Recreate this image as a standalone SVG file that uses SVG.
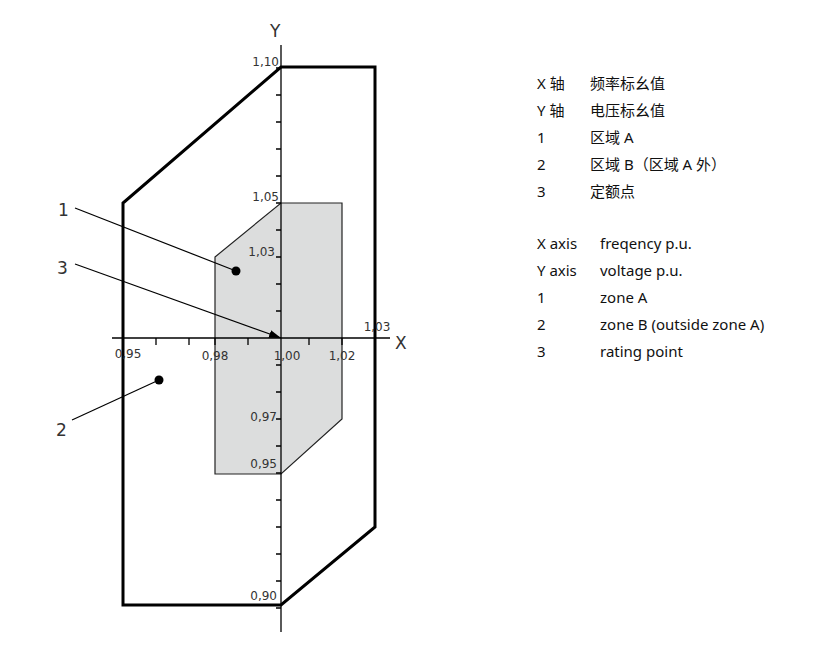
<svg xmlns="http://www.w3.org/2000/svg" width="833" height="648" viewBox="0 0 833 648">
<style>
.t{font-family:"Noto Sans","Noto Sans CJK SC",sans-serif;font-size:15px;fill:#111}
.s{font-family:"DejaVu Sans",sans-serif;font-size:12px;fill:#333}
.b{font-family:"DejaVu Sans",sans-serif;font-size:17px;fill:#333}
.ax{stroke:#000;stroke-width:1.3;fill:none}
</style>
<defs><marker id="ar" markerWidth="12" markerHeight="8" refX="12" refY="4" orient="auto" markerUnits="userSpaceOnUse"><path d="M0,0L12,4L0,8z" fill="#000"/></marker></defs>
<g id="zoneA"><path d="M215,257L281,203L342,203L342,419L281,474L215,474Z" fill="#dcdddd" stroke="#222" stroke-width="1.2"/></g>
<g id="zoneB"><path d="M123,605L123,203L281,67L375,67L375,527L281,605Z" fill="none" stroke="#000" stroke-width="3"/></g>
<g id="axes">
<line class="ax" x1="112" y1="338" x2="390" y2="338"/>
<line class="ax" x1="281" y1="45" x2="281" y2="632"/>
<path class="ax" d="M156,338v7M189,338v7M215,338v7M248,338v7M309,338v7M342,338v7M375,338v7M123,338v7"/>
<path class="ax" d="M276,68h5M276,95h5M276,122h5M276,149h5M276,176h5M276,203h5M276,230h5M276,257h5M276,284h5M276,311h5M276,365h5M276,392h5M276,419h5M276,446h5M276,473h5M276,500h5M276,527h5M276,554h5M276,581h5M276,608h5"/>
<text class="b" x="270" y="37">Y</text><text class="b" x="395" y="349">X</text>
<g class="s" text-anchor="end">
<text x="279" y="66">1,10</text><text x="279" y="201">1,05</text><text x="275" y="256">1,03</text><text x="277" y="421">0,97</text><text x="277" y="468">0,95</text><text x="277" y="600">0,90</text>
</g>
<g class="s" text-anchor="middle">
<text x="128" y="358">0,95</text><text x="215" y="360">0,98</text><text x="287" y="360">1,00</text><text x="342" y="360">1,02</text><text x="377" y="331">1,03</text>
</g>
</g>
<g id="connectors" stroke="#000" stroke-width="1.2" fill="none">
<line x1="75" y1="208" x2="236" y2="271"/>
<line x1="75" y1="264" x2="281" y2="338" marker-end="url(#ar)"/>
<line x1="72" y1="420" x2="159" y2="380"/>
</g>
<circle cx="236" cy="271" r="4.5"/><circle cx="159" cy="380" r="4.5"/>
<text class="b" x="58" y="216">1</text><text class="b" x="57" y="274">3</text><text class="b" x="56" y="436">2</text>
<g id="legend" class="t">
<text x="537" y="89">X 轴</text><text x="590" y="89">频率标幺值</text>
<text x="537" y="116">Y 轴</text><text x="590" y="116">电压标幺值</text>
<text x="537" y="143">1</text><text x="590" y="143">区域 A</text>
<text x="537" y="170">2</text><text x="590" y="170">区域 B（区域 A 外）</text>
<text x="537" y="197">3</text><text x="590" y="197">定额点</text>
<text x="537" y="249">X axis</text><text x="600" y="249">freqency p.u.</text>
<text x="537" y="276">Y axis</text><text x="600" y="276">voltage p.u.</text>
<text x="537" y="303">1</text><text x="600" y="303">zone A</text>
<text x="537" y="330">2</text><text x="600" y="330">zone B (outside zone A)</text>
<text x="537" y="357">3</text><text x="600" y="357">rating point</text>
</g>
</svg>
